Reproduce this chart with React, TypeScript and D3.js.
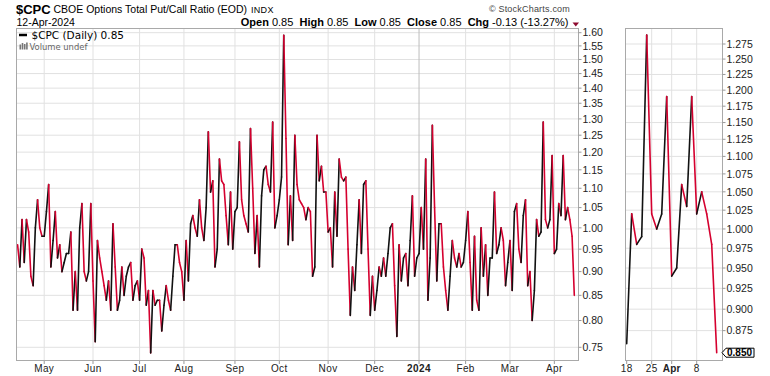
import React from 'react';
import * as d3 from 'd3';

// ---- data ----
const START_DATE = '2023-04-13';
const END_DATE = '2024-04-12';
const HOLIDAYS = ['2023-05-29', '2023-06-19', '2023-07-04', '2023-09-04', '2023-11-23', '2023-12-25', '2024-01-01', '2024-01-15', '2024-02-19', '2024-03-29'];

const VALUES = [
  0.96, 0.91, 1.02, 0.92, 1.02, 0.99, 0.89, 0.87, 1.00, 1.07, 1.00, 0.98, 0.98, 1.04, 1.11, 0.91, 0.97, 1.04, 0.93, 0.96,
  0.90, 0.92, 0.94, 0.94, 0.99, 0.82, 0.90, 0.82, 1.00, 1.06, 0.90, 0.88, 0.90, 1.06, 0.88, 0.76, 0.97, 0.93, 0.90, 0.87,
  0.84, 0.88, 0.82, 1.01, 0.91, 0.82, 0.84, 0.91, 0.85, 0.89, 0.91, 0.92, 0.84, 0.87, 0.88, 0.84, 0.95, 0.93, 0.83, 0.86,
  0.74, 0.86, 0.83, 0.84, 0.84, 0.78, 0.83, 0.87, 0.84, 0.82, 0.89, 0.96, 0.96, 0.92, 0.90, 0.84, 0.97, 0.88, 1.01, 1.03,
  1.00, 0.98, 1.07, 1.00, 0.97, 1.05, 1.26, 1.09, 1.12, 0.91, 0.95, 1.18, 1.12, 1.11, 1.03, 0.96, 1.09, 0.95, 1.04, 1.05,
  1.23, 1.07, 1.03, 1.01, 0.99, 1.27, 1.10, 0.94, 1.03, 0.91, 1.08, 1.15, 1.16, 1.11, 1.09, 1.29, 1.00, 1.03, 1.07, 1.13,
  1.59, 1.24, 0.96, 1.08, 0.97, 1.25, 1.11, 1.07, 1.06, 1.05, 1.02, 1.05, 1.04, 0.89, 0.91, 1.25, 1.12, 1.16, 1.09, 1.09,
  0.99, 1.00, 0.91, 1.09, 0.98, 1.18, 1.13, 1.12, 1.13, 0.95, 0.81, 0.91, 0.86, 0.96, 1.07, 0.94, 1.11, 1.12, 0.95, 0.81,
  0.89, 0.82, 0.86, 0.91, 0.89, 0.93, 0.89, 0.94, 1.00, 1.01, 0.87, 0.77, 0.96, 0.88, 0.93, 0.94, 0.87, 0.97, 1.08, 0.89,
  0.93, 0.94, 1.05, 0.95, 1.18, 0.84, 0.93, 1.28, 1.05, 0.88, 1.01, 1.01, 0.91, 0.86, 0.82, 0.89, 0.97, 0.93, 0.91, 0.94,
  0.91, 0.92, 0.97, 1.04, 0.92, 0.82, 0.98, 0.84, 0.82, 1.00, 0.89, 0.96, 0.85, 0.93, 0.93, 1.09, 0.94, 0.96, 1.00, 0.97,
  0.87, 0.92, 0.97, 0.86, 1.04, 1.06, 0.95, 0.92, 1.03, 1.07, 0.87, 0.90, 0.80, 0.86, 1.02, 0.98, 0.99, 1.29, 1.02, 1.00,
  1.02, 1.19, 0.94, 0.95, 1.06, 1.03, 1.19, 1.02, 1.05, 1.02, 0.98, 0.85,
];

const MAIN_TICKS = [0.75, 0.8, 0.85, 0.9, 0.95, 1.0, 1.05, 1.1, 1.15, 1.2, 1.25, 1.3, 1.35, 1.4, 1.45, 1.5, 1.55, 1.6];
const SIDE_TICKS = [0.875, 0.9, 0.925, 0.95, 0.975, 1.0, 1.025, 1.05, 1.075, 1.1, 1.125, 1.15, 1.175, 1.2, 1.225, 1.25, 1.275];
const SIDE_START_DATE = '2024-03-18';
const SYMBOL = '$CPC';
const TITLE = 'CBOE Options Total Put/Call Ratio (EOD)';
const EXCHANGE = 'INDX';
const DATE_LABEL = '12-Apr-2024';
const OPEN = 0.85, HIGH = 0.85, LOW = 0.85, CLOSE = 0.85, CHG = -0.13, CHG_PCT = -13.27;

// ---- layout ----
const W = 770, H = 376;
const MAIN = { left: 16, right: 579, top: 28, bottom: 361 };
const SIDE = { left: 625, right: 723, top: 28, bottom: 361 };
const FONT = 'Liberation Sans, Arial, sans-serif';
const UP = '#111111';
const DOWN = '#d5002f';
const GRID = '#e1e1e1';
const FRAME = '#a9a9a9';

export default function App() {
  const fmt = d3.timeFormat('%Y-%m-%d');
  const parse = d3.timeParse('%Y-%m-%d');
  const hol = new Set(HOLIDAYS);
  const endNext = d3.timeDay.offset(parse(END_DATE) as Date, 1);
  const days = d3.timeDay
    .range(parse(START_DATE) as Date, endNext)
    .filter((d) => d.getDay() > 0 && d.getDay() < 6 && !hol.has(fmt(d)));
  const n = VALUES.length;

  const x = d3.scaleLinear().domain([0, n - 1]).range([17.6, 574.3]);
  const y = d3.scaleLog().domain([0.75, 1.6]).range([347.3, 32.7]);

  const monthStarts: number[] = [];
  for (let i = 1; i < days.length; i++) {
    if (days[i].getMonth() !== days[i - 1].getMonth()) monthStarts.push(i);
  }

  const sideStart = days.findIndex((d) => fmt(d) === SIDE_START_DATE);
  const sx = d3.scaleLinear().domain([sideStart, n - 1]).range([626.7, 716.7]);
  const sy = d3.scaleLog().domain([0.85, 1.275]).range([352.7, 44]);

  const sideIdx = d3.range(sideStart, n);
  const sideMondays = sideIdx.filter((i) => days[i].getDay() === 1);

  const segs = (idx: number[], fx: (i: number) => number, fy: (v: number) => number) =>
    idx.slice(1).map((i) => {
      const up = VALUES[i] >= VALUES[i - 1];
      return (
        <line
          key={i}
          x1={fx(i - 1)}
          y1={fy(VALUES[i - 1])}
          x2={fx(i)}
          y2={fy(VALUES[i])}
          stroke={up ? UP : DOWN}
          strokeWidth={1.6}
          strokeLinecap="round"
        />
      );
    });

  const last = VALUES[n - 1];
  const lastY = sy(last);
  const volBars = [43, 41.5, 42.5, 41];

  return (
    <svg
      width={W}
      height={H}
      viewBox={`0 0 ${W} ${H}`}
      style={{ position: 'absolute', left: 0, top: 0, background: '#fff', display: 'block' }}
      fontFamily={FONT}
    >
      <rect x={0} y={0} width={W} height={H} fill="#fff" />
      <defs>
        <clipPath id="mainClip">
          <rect x={MAIN.left} y={MAIN.top} width={MAIN.right - MAIN.left} height={MAIN.bottom - MAIN.top} />
        </clipPath>
        <clipPath id="sideClip">
          <rect x={SIDE.left} y={SIDE.top} width={SIDE.right - SIDE.left} height={SIDE.bottom - SIDE.top} />
        </clipPath>
      </defs>

      {/* header */}
      <text x={16} y={13.5} fontSize={13} fontWeight="bold" fill="#000">{SYMBOL}</text>
      <text x={53.5} y={13} fontSize={10.5} fill="#000">{TITLE}</text>
      <text x={251} y={13} fontSize={9} fill="#000" letterSpacing={0.3}>{EXCHANGE}</text>
      <text x={570} y={11.5} fontSize={9} fill="#444" textAnchor="end" letterSpacing={0.2}>© StockCharts.com</text>
      <text x={16.5} y={26} fontSize={10.5} fill="#000">{DATE_LABEL}</text>
      <text x={568.5} y={26} fontSize={11} fill="#000" textAnchor="end" style={{ whiteSpace: 'pre' }}>
        <tspan fontWeight="bold">Open</tspan>
        <tspan>{` ${OPEN.toFixed(2)}  `}</tspan>
        <tspan fontWeight="bold">High</tspan>
        <tspan>{` ${HIGH.toFixed(2)}  `}</tspan>
        <tspan fontWeight="bold">Low</tspan>
        <tspan>{` ${LOW.toFixed(2)}  `}</tspan>
        <tspan fontWeight="bold">Close</tspan>
        <tspan>{` ${CLOSE.toFixed(2)}  `}</tspan>
        <tspan fontWeight="bold">Chg</tspan>
        <tspan>{` ${CHG.toFixed(2)} (${CHG_PCT.toFixed(2)}%)`}</tspan>
      </text>
      <path d="M572.5,22.5 L579,22.5 L575.75,26.5 Z" fill="#8e0a2e" />

      {/* main panel grid */}
      {MAIN_TICKS.map((t) => (
        <line key={'hg' + t} x1={MAIN.left} x2={MAIN.right} y1={y(t)} y2={y(t)} stroke={GRID} strokeWidth={1} />
      ))}
      {monthStarts.map((i) => (
        <line
          key={'vg' + i}
          x1={x(i)}
          x2={x(i)}
          y1={MAIN.top}
          y2={MAIN.bottom}
          stroke={days[i].getMonth() === 0 ? '#bdbdbd' : GRID}
          strokeWidth={1}
        />
      ))}

      {/* legend */}
      <line x1={19} x2={27} y1={35} y2={35} stroke="#000" strokeWidth={2.5} />
      <text x={31.5} y={38.5} fontSize={10.5} fontFamily="DejaVu Sans, Verdana, sans-serif" fill="#000">
        {`${SYMBOL} (Daily) ${CLOSE.toFixed(2)}`}
      </text>
      {volBars.map((top, k) => (
        <rect key={'vb' + k} x={19.5 + k * 2.2} y={top + 1.5} width={1.6} height={49.5 - top - 1.5} fill="#777" />
      ))}
      <text x={29.5} y={49.5} fontSize={8.4} fontFamily="DejaVu Sans, Verdana, sans-serif" fill="#666">Volume undef</text>

      {/* main line */}
      <g clipPath="url(#mainClip)">{segs(d3.range(0, n), x, y)}</g>

      {/* main frame */}
      <rect x={MAIN.left + 0.5} y={MAIN.top + 0.5} width={MAIN.right - MAIN.left - 1} height={MAIN.bottom - MAIN.top - 1} fill="none" stroke={FRAME} strokeWidth={1} />

      {/* main y axis */}
      {MAIN_TICKS.map((t) => (
        <g key={'yt' + t}>
          <line x1={MAIN.right - 0.5} x2={MAIN.right + 2.5} y1={y(t)} y2={y(t)} stroke="#999" />
          <text x={582.5} y={y(t)} dy="0.36em" fontSize={10.5} fill="#222">{t.toFixed(2)}</text>
        </g>
      ))}

      {/* main x axis */}
      {monthStarts.map((i) => {
        const isYear = days[i].getMonth() === 0;
        return (
          <g key={'xt' + i}>
            <line x1={x(i)} x2={x(i)} y1={MAIN.bottom} y2={MAIN.bottom + 3} stroke="#999" />
            <text
              x={x(i)}
              y={372}
              fontSize={10}
              textAnchor="middle"
              fontWeight={isYear ? 'bold' : 'normal'}
              fill="#222"
              letterSpacing={0.4}
            >
              {isYear ? d3.timeFormat('%Y')(days[i]) : d3.timeFormat('%b')(days[i])}
            </text>
          </g>
        );
      })}

      {/* side panel grid */}
      {SIDE_TICKS.map((t) => (
        <line key={'shg' + t} x1={SIDE.left} x2={SIDE.right} y1={sy(t)} y2={sy(t)} stroke={GRID} />
      ))}
      {sideMondays.slice(1).map((i) => (
        <line key={'svg' + i} x1={sx(i)} x2={sx(i)} y1={SIDE.top} y2={SIDE.bottom} stroke={GRID} />
      ))}
      <g clipPath="url(#sideClip)">{segs(sideIdx, sx, sy)}</g>
      <rect x={SIDE.left + 0.5} y={SIDE.top + 0.5} width={SIDE.right - SIDE.left - 1} height={SIDE.bottom - SIDE.top - 1} fill="none" stroke={FRAME} />

      {/* side y axis */}
      {SIDE_TICKS.map((t) => (
        <g key={'syt' + t}>
          <line x1={SIDE.right - 0.5} x2={SIDE.right + 2.5} y1={sy(t)} y2={sy(t)} stroke="#999" />
          <text x={726.5} y={sy(t)} dy="0.36em" fontSize={10.5} fill="#222">{t.toFixed(3)}</text>
        </g>
      ))}
      {/* last value tag */}
      <path
        d={`M${SIDE.right - 1},${lastY} L${SIDE.right + 3},${lastY - 4.5} L${SIDE.right + 31},${lastY - 4.5} L${SIDE.right + 31},${lastY + 4.5} L${SIDE.right + 3},${lastY + 4.5} Z`}
        fill="#fff"
        stroke="#000"
        strokeWidth={1}
      />
      <text x={SIDE.right + 4} y={lastY} dy="0.36em" fontSize={10} fontWeight="bold" fill="#000">{last.toFixed(3)}</text>

      {/* side x axis */}
      {sideMondays.map((i) => {
        const d = days[i];
        const monthStart = i > 0 && days[i - 1].getMonth() !== d.getMonth();
        return (
          <g key={'sxt' + i}>
            <line x1={sx(i)} x2={sx(i)} y1={SIDE.bottom} y2={SIDE.bottom + 3} stroke="#999" />
            <text x={sx(i)} y={372} fontSize={10} textAnchor="middle" fontWeight={monthStart ? 'bold' : 'normal'} fill="#222" letterSpacing={0.3}>
              {monthStart ? d3.timeFormat('%b')(d) : String(d.getDate())}
            </text>
          </g>
        );
      })}
    </svg>
  );
}
